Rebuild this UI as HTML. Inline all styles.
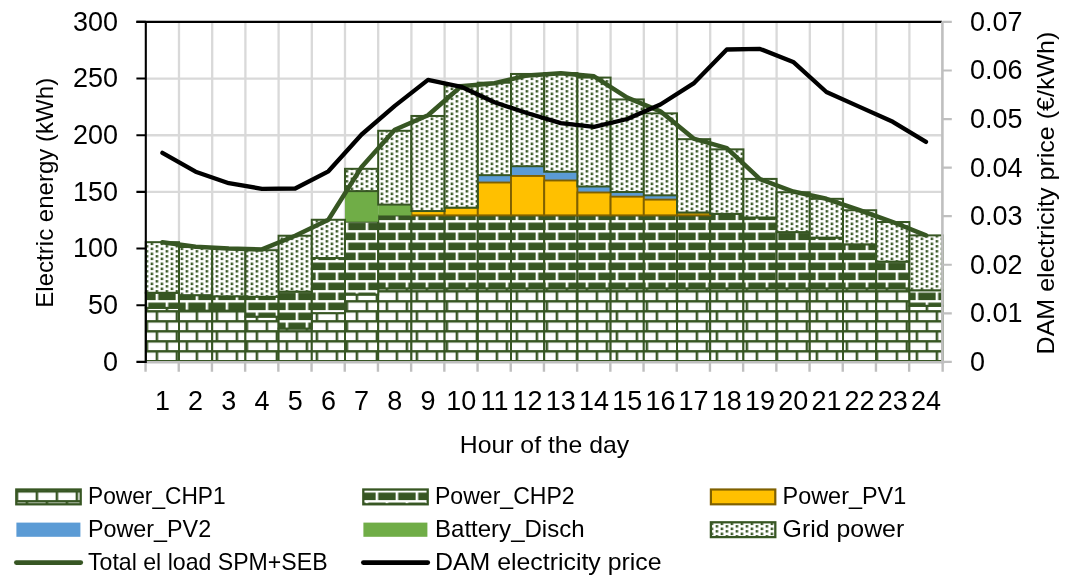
<!DOCTYPE html>
<html lang="en"><head><meta charset="utf-8"><title>Electric energy chart</title>
<style>html,body{margin:0;padding:0;background:#fff}svg{display:block}</style></head>
<body>
<svg width="1069" height="580" viewBox="0 0 1069 580" font-family="'Liberation Sans', sans-serif" fill="#000">
<defs>
<pattern id="b1" patternUnits="userSpaceOnUse" x="5.65" y="0.1" width="20" height="20"><rect width="20" height="20" fill="#fff"/><path d="M0 0h20v2.5H0zM0 10h20v2.5H0zM0 0h2.5v10H0zM10 10h2.5v10H10z" fill="#375623"/></pattern>
<pattern id="b2" patternUnits="userSpaceOnUse" x="5.65" y="0.1" width="20" height="20"><rect width="20" height="20" fill="#375623"/><path d="M0 0h20v2.5H0zM0 10h20v2.5H0zM0 0h2.5v10H0zM10 10h2.5v10H10z" fill="#fff"/></pattern>
<pattern id="dt" patternUnits="userSpaceOnUse" x="5.65" y="0.1" width="10" height="5"><rect width="10" height="5" fill="#fff"/><path d="M0 0h2.5v2.5H0zM5 2.5h2.5v2.5H5z" fill="#375623"/></pattern>
</defs>
<rect width="1069" height="580" fill="#fff"/>
<path d="M145.8 305.23H942.60M145.8 248.57H942.60M145.8 191.90H942.60M145.8 135.23H942.60M145.8 78.57H942.60M179.00 21.90V361.9M212.20 21.90V361.9M245.40 21.90V361.9M278.60 21.90V361.9M311.80 21.90V361.9M345.00 21.90V361.9M378.20 21.90V361.9M411.40 21.90V361.9M444.60 21.90V361.9M477.80 21.90V361.9M511.00 21.90V361.9M544.20 21.90V361.9M577.40 21.90V361.9M610.60 21.90V361.9M643.80 21.90V361.9M677.00 21.90V361.9M710.20 21.90V361.9M743.40 21.90V361.9M776.60 21.90V361.9M809.80 21.90V361.9M843.00 21.90V361.9M876.20 21.90V361.9M909.40 21.90V361.9" stroke="#D9D9D9" stroke-width="2.3" fill="none"/>
<rect x="145.80" y="307.83" width="33.2" height="53.17" fill="url(#b1)" stroke="#375623" stroke-width="2.0"/>
<rect x="179.00" y="310.66" width="33.2" height="50.34" fill="url(#b1)" stroke="#375623" stroke-width="2.0"/>
<rect x="212.20" y="310.66" width="33.2" height="50.34" fill="url(#b1)" stroke="#375623" stroke-width="2.0"/>
<rect x="245.40" y="316.66" width="33.2" height="44.34" fill="url(#b1)" stroke="#375623" stroke-width="2.0"/>
<rect x="278.60" y="328.55" width="33.2" height="32.45" fill="url(#b1)" stroke="#375623" stroke-width="2.0"/>
<rect x="311.80" y="313.15" width="33.2" height="47.85" fill="url(#b1)" stroke="#375623" stroke-width="2.0"/>
<rect x="345.00" y="294.59" width="33.2" height="66.41" fill="url(#b1)" stroke="#375623" stroke-width="2.0"/>
<rect x="378.20" y="288.36" width="33.2" height="72.64" fill="url(#b1)" stroke="#375623" stroke-width="2.0"/>
<rect x="411.40" y="288.36" width="33.2" height="72.64" fill="url(#b1)" stroke="#375623" stroke-width="2.0"/>
<rect x="444.60" y="288.36" width="33.2" height="72.64" fill="url(#b1)" stroke="#375623" stroke-width="2.0"/>
<rect x="477.80" y="288.36" width="33.2" height="72.64" fill="url(#b1)" stroke="#375623" stroke-width="2.0"/>
<rect x="511.00" y="288.36" width="33.2" height="72.64" fill="url(#b1)" stroke="#375623" stroke-width="2.0"/>
<rect x="544.20" y="288.36" width="33.2" height="72.64" fill="url(#b1)" stroke="#375623" stroke-width="2.0"/>
<rect x="577.40" y="288.36" width="33.2" height="72.64" fill="url(#b1)" stroke="#375623" stroke-width="2.0"/>
<rect x="610.60" y="288.36" width="33.2" height="72.64" fill="url(#b1)" stroke="#375623" stroke-width="2.0"/>
<rect x="643.80" y="288.36" width="33.2" height="72.64" fill="url(#b1)" stroke="#375623" stroke-width="2.0"/>
<rect x="677.00" y="288.36" width="33.2" height="72.64" fill="url(#b1)" stroke="#375623" stroke-width="2.0"/>
<rect x="710.20" y="288.36" width="33.2" height="72.64" fill="url(#b1)" stroke="#375623" stroke-width="2.0"/>
<rect x="743.40" y="288.36" width="33.2" height="72.64" fill="url(#b1)" stroke="#375623" stroke-width="2.0"/>
<rect x="776.60" y="288.36" width="33.2" height="72.64" fill="url(#b1)" stroke="#375623" stroke-width="2.0"/>
<rect x="809.80" y="288.36" width="33.2" height="72.64" fill="url(#b1)" stroke="#375623" stroke-width="2.0"/>
<rect x="843.00" y="288.36" width="33.2" height="72.64" fill="url(#b1)" stroke="#375623" stroke-width="2.0"/>
<rect x="876.20" y="288.36" width="33.2" height="72.64" fill="url(#b1)" stroke="#375623" stroke-width="2.0"/>
<rect x="909.40" y="305.79" width="33.2" height="55.21" fill="url(#b1)" stroke="#375623" stroke-width="2.0"/>
<rect x="145.80" y="292.77" width="33.2" height="15.06" fill="url(#b2)" stroke="#375623" stroke-width="2.0"/>
<rect x="179.00" y="295.15" width="33.2" height="15.51" fill="url(#b2)" stroke="#375623" stroke-width="2.0"/>
<rect x="212.20" y="296.28" width="33.2" height="14.38" fill="url(#b2)" stroke="#375623" stroke-width="2.0"/>
<rect x="245.40" y="296.74" width="33.2" height="19.92" fill="url(#b2)" stroke="#375623" stroke-width="2.0"/>
<rect x="278.60" y="291.64" width="33.2" height="36.90" fill="url(#b2)" stroke="#375623" stroke-width="2.0"/>
<rect x="311.80" y="258.02" width="33.2" height="55.13" fill="url(#b2)" stroke="#375623" stroke-width="2.0"/>
<rect x="345.00" y="221.68" width="33.2" height="72.90" fill="url(#b2)" stroke="#375623" stroke-width="2.0"/>
<rect x="378.20" y="215.46" width="33.2" height="72.90" fill="url(#b2)" stroke="#375623" stroke-width="2.0"/>
<rect x="411.40" y="215.35" width="33.2" height="73.01" fill="url(#b2)" stroke="#375623" stroke-width="2.0"/>
<rect x="444.60" y="215.35" width="33.2" height="73.01" fill="url(#b2)" stroke="#375623" stroke-width="2.0"/>
<rect x="477.80" y="215.35" width="33.2" height="73.01" fill="url(#b2)" stroke="#375623" stroke-width="2.0"/>
<rect x="511.00" y="215.35" width="33.2" height="73.01" fill="url(#b2)" stroke="#375623" stroke-width="2.0"/>
<rect x="544.20" y="215.35" width="33.2" height="73.01" fill="url(#b2)" stroke="#375623" stroke-width="2.0"/>
<rect x="577.40" y="215.35" width="33.2" height="73.01" fill="url(#b2)" stroke="#375623" stroke-width="2.0"/>
<rect x="610.60" y="215.35" width="33.2" height="73.01" fill="url(#b2)" stroke="#375623" stroke-width="2.0"/>
<rect x="643.80" y="215.35" width="33.2" height="73.01" fill="url(#b2)" stroke="#375623" stroke-width="2.0"/>
<rect x="677.00" y="215.35" width="33.2" height="73.01" fill="url(#b2)" stroke="#375623" stroke-width="2.0"/>
<rect x="710.20" y="213.87" width="33.2" height="74.49" fill="url(#b2)" stroke="#375623" stroke-width="2.0"/>
<rect x="743.40" y="217.50" width="33.2" height="70.86" fill="url(#b2)" stroke="#375623" stroke-width="2.0"/>
<rect x="776.60" y="232.10" width="33.2" height="56.26" fill="url(#b2)" stroke="#375623" stroke-width="2.0"/>
<rect x="809.80" y="237.65" width="33.2" height="50.71" fill="url(#b2)" stroke="#375623" stroke-width="2.0"/>
<rect x="843.00" y="244.32" width="33.2" height="44.03" fill="url(#b2)" stroke="#375623" stroke-width="2.0"/>
<rect x="876.20" y="261.64" width="33.2" height="26.72" fill="url(#b2)" stroke="#375623" stroke-width="2.0"/>
<rect x="909.40" y="290.28" width="33.2" height="15.51" fill="url(#b2)" stroke="#375623" stroke-width="2.0"/>
<rect x="477.80" y="175.16" width="33.2" height="7.36" fill="#5B9BD5" stroke="none" stroke-width="0"/>
<rect x="511.00" y="166.22" width="33.2" height="9.74" fill="#5B9BD5" stroke="none" stroke-width="0"/>
<rect x="544.20" y="171.76" width="33.2" height="8.72" fill="#5B9BD5" stroke="none" stroke-width="0"/>
<rect x="577.40" y="186.48" width="33.2" height="6.00" fill="#5B9BD5" stroke="none" stroke-width="0"/>
<rect x="610.60" y="192.03" width="33.2" height="4.64" fill="#5B9BD5" stroke="none" stroke-width="0"/>
<rect x="643.80" y="195.31" width="33.2" height="4.30" fill="#5B9BD5" stroke="none" stroke-width="0"/>
<rect x="411.40" y="211.04" width="33.2" height="4.30" fill="#FFC000" stroke="#7F6000" stroke-width="1.9"/>
<rect x="444.60" y="207.65" width="33.2" height="7.70" fill="#FFC000" stroke="#7F6000" stroke-width="1.9"/>
<rect x="477.80" y="182.52" width="33.2" height="32.83" fill="#FFC000" stroke="#7F6000" stroke-width="1.9"/>
<rect x="511.00" y="175.95" width="33.2" height="39.39" fill="#FFC000" stroke="#7F6000" stroke-width="1.9"/>
<rect x="544.20" y="180.48" width="33.2" height="34.87" fill="#FFC000" stroke="#7F6000" stroke-width="1.9"/>
<rect x="577.40" y="192.48" width="33.2" height="22.87" fill="#FFC000" stroke="#7F6000" stroke-width="1.9"/>
<rect x="610.60" y="196.67" width="33.2" height="18.68" fill="#FFC000" stroke="#7F6000" stroke-width="1.9"/>
<rect x="643.80" y="199.61" width="33.2" height="15.73" fill="#FFC000" stroke="#7F6000" stroke-width="1.9"/>
<rect x="677.00" y="212.52" width="33.2" height="2.83" fill="#FFC000" stroke="#7F6000" stroke-width="1.9"/>
<rect x="345.00" y="191.12" width="33.2" height="30.56" fill="#70AD47" stroke="none" stroke-width="0"/>
<rect x="378.20" y="204.59" width="33.2" height="10.87" fill="#70AD47" stroke="none" stroke-width="0"/>
<rect x="145.80" y="242.17" width="33.2" height="50.60" fill="url(#dt)" stroke="#375623" stroke-width="2.0"/>
<rect x="179.00" y="247.04" width="33.2" height="48.11" fill="url(#dt)" stroke="#375623" stroke-width="2.0"/>
<rect x="212.20" y="248.85" width="33.2" height="47.43" fill="url(#dt)" stroke="#375623" stroke-width="2.0"/>
<rect x="245.40" y="250.21" width="33.2" height="46.53" fill="url(#dt)" stroke="#375623" stroke-width="2.0"/>
<rect x="278.60" y="235.72" width="33.2" height="55.92" fill="url(#dt)" stroke="#375623" stroke-width="2.0"/>
<rect x="311.80" y="219.76" width="33.2" height="38.26" fill="url(#dt)" stroke="#375623" stroke-width="2.0"/>
<rect x="345.00" y="168.82" width="33.2" height="22.30" fill="url(#dt)" stroke="#375623" stroke-width="2.0"/>
<rect x="378.20" y="130.79" width="33.2" height="73.81" fill="url(#dt)" stroke="#375623" stroke-width="2.0"/>
<rect x="411.40" y="115.96" width="33.2" height="95.09" fill="url(#dt)" stroke="#375623" stroke-width="2.0"/>
<rect x="444.60" y="84.94" width="33.2" height="122.71" fill="url(#dt)" stroke="#375623" stroke-width="2.0"/>
<rect x="477.80" y="82.68" width="33.2" height="92.48" fill="url(#dt)" stroke="#375623" stroke-width="2.0"/>
<rect x="511.00" y="73.96" width="33.2" height="92.26" fill="url(#dt)" stroke="#375623" stroke-width="2.0"/>
<rect x="544.20" y="73.05" width="33.2" height="98.71" fill="url(#dt)" stroke="#375623" stroke-width="2.0"/>
<rect x="577.40" y="77.58" width="33.2" height="108.90" fill="url(#dt)" stroke="#375623" stroke-width="2.0"/>
<rect x="610.60" y="99.43" width="33.2" height="92.60" fill="url(#dt)" stroke="#375623" stroke-width="2.0"/>
<rect x="643.80" y="113.35" width="33.2" height="81.96" fill="url(#dt)" stroke="#375623" stroke-width="2.0"/>
<rect x="677.00" y="139.16" width="33.2" height="73.35" fill="url(#dt)" stroke="#375623" stroke-width="2.0"/>
<rect x="710.20" y="149.35" width="33.2" height="64.52" fill="url(#dt)" stroke="#375623" stroke-width="2.0"/>
<rect x="743.40" y="178.90" width="33.2" height="38.60" fill="url(#dt)" stroke="#375623" stroke-width="2.0"/>
<rect x="776.60" y="192.25" width="33.2" height="39.85" fill="url(#dt)" stroke="#375623" stroke-width="2.0"/>
<rect x="809.80" y="198.82" width="33.2" height="38.83" fill="url(#dt)" stroke="#375623" stroke-width="2.0"/>
<rect x="843.00" y="210.25" width="33.2" height="34.07" fill="url(#dt)" stroke="#375623" stroke-width="2.0"/>
<rect x="876.20" y="222.02" width="33.2" height="39.62" fill="url(#dt)" stroke="#375623" stroke-width="2.0"/>
<rect x="909.40" y="235.38" width="33.2" height="54.90" fill="url(#dt)" stroke="#375623" stroke-width="2.0"/>
<path d="M136.4 21.90H942.10" stroke="#000" stroke-width="2.1" fill="none"/>
<path d="M144.8 362.2H944.40" stroke="#BFBFBF" stroke-width="2.6" fill="none"/>
<path d="M145.55 362.2V371.8M178.75 362.2V371.8M211.95 362.2V371.8M245.15 362.2V371.8M278.35 362.2V371.8M311.55 362.2V371.8M344.75 362.2V371.8M377.95 362.2V371.8M411.15 362.2V371.8M444.35 362.2V371.8M477.55 362.2V371.8M510.75 362.2V371.8M543.95 362.2V371.8M577.15 362.2V371.8M610.35 362.2V371.8M643.55 362.2V371.8M676.75 362.2V371.8M709.95 362.2V371.8M743.15 362.2V371.8M776.35 362.2V371.8M809.55 362.2V371.8M842.75 362.2V371.8M875.95 362.2V371.8M909.15 362.2V371.8M942.65 362.2V371.8" stroke="#BFBFBF" stroke-width="2.4" fill="none"/>
<path d="M942.4 21.40V363.4" stroke="#BFBFBF" stroke-width="2.6" fill="none"/>
<path d="M942.4 361.90H951.8M942.4 313.33H951.8M942.4 264.76H951.8M942.4 216.19H951.8M942.4 167.62H951.8M942.4 119.05H951.8M942.4 70.48H951.8M942.4 21.91H951.8" stroke="#BFBFBF" stroke-width="2.2" fill="none"/>
<path d="M145.8 21.00V362.9M136.4 361.90H145.8M136.4 305.23H145.8M136.4 248.57H145.8M136.4 191.90H145.8M136.4 135.23H145.8M136.4 78.57H145.8M136.4 21.90H145.8" stroke="#000" stroke-width="2.1" fill="none"/>
<polyline points="162.40,242.17 195.60,246.82 228.80,248.51 262.00,249.42 295.20,235.72 328.40,219.76 361.60,167.01 394.80,129.77 428.00,115.28 461.20,86.30 494.40,83.24 527.60,75.43 560.80,73.28 594.00,76.34 627.20,97.62 660.40,111.31 693.60,138.60 726.80,148.10 760.00,179.23 793.20,191.57 826.40,198.82 859.60,210.25 892.80,222.02 926.00,235.38" fill="none" stroke="#375623" stroke-width="4.5" stroke-linejoin="round" stroke-linecap="round"/>
<polyline points="162.40,152.80 195.60,171.70 228.80,183.20 262.00,188.80 295.20,188.50 328.40,171.30 361.60,134.50 394.80,105.90 428.00,79.90 461.20,86.80 494.40,102.30 527.60,113.20 560.80,123.10 594.00,126.80 627.20,119.00 660.40,104.50 693.60,83.40 726.80,49.50 760.00,48.90 793.20,61.90 826.40,92.00 859.60,106.90 892.80,121.80 926.00,141.90" fill="none" stroke="#000" stroke-width="4.3" stroke-linejoin="round" stroke-linecap="round"/>
<text transform="translate(117.90 370.80) scale(0.96 1)" font-size="28.1" text-anchor="end">0</text>
<text transform="translate(117.90 314.13) scale(0.96 1)" font-size="28.1" text-anchor="end">50</text>
<text transform="translate(117.90 257.47) scale(0.96 1)" font-size="28.1" text-anchor="end">100</text>
<text transform="translate(117.90 200.80) scale(0.96 1)" font-size="28.1" text-anchor="end">150</text>
<text transform="translate(117.90 144.13) scale(0.96 1)" font-size="28.1" text-anchor="end">200</text>
<text transform="translate(117.90 87.47) scale(0.96 1)" font-size="28.1" text-anchor="end">250</text>
<text transform="translate(117.90 30.80) scale(0.96 1)" font-size="28.1" text-anchor="end">300</text>
<text transform="translate(970.00 370.80) scale(0.96 1)" font-size="28.1" text-anchor="start">0</text>
<text transform="translate(970.00 322.23) scale(0.96 1)" font-size="28.1" text-anchor="start">0.01</text>
<text transform="translate(970.00 273.66) scale(0.96 1)" font-size="28.1" text-anchor="start">0.02</text>
<text transform="translate(970.00 225.09) scale(0.96 1)" font-size="28.1" text-anchor="start">0.03</text>
<text transform="translate(970.00 176.52) scale(0.96 1)" font-size="28.1" text-anchor="start">0.04</text>
<text transform="translate(970.00 127.95) scale(0.96 1)" font-size="28.1" text-anchor="start">0.05</text>
<text transform="translate(970.00 79.38) scale(0.96 1)" font-size="28.1" text-anchor="start">0.06</text>
<text transform="translate(970.00 30.81) scale(0.96 1)" font-size="28.1" text-anchor="start">0.07</text>
<text transform="translate(162.40 410.40) scale(0.96 1)" font-size="28.1" text-anchor="middle">1</text>
<text transform="translate(195.60 410.40) scale(0.96 1)" font-size="28.1" text-anchor="middle">2</text>
<text transform="translate(228.80 410.40) scale(0.96 1)" font-size="28.1" text-anchor="middle">3</text>
<text transform="translate(262.00 410.40) scale(0.96 1)" font-size="28.1" text-anchor="middle">4</text>
<text transform="translate(295.20 410.40) scale(0.96 1)" font-size="28.1" text-anchor="middle">5</text>
<text transform="translate(328.40 410.40) scale(0.96 1)" font-size="28.1" text-anchor="middle">6</text>
<text transform="translate(361.60 410.40) scale(0.96 1)" font-size="28.1" text-anchor="middle">7</text>
<text transform="translate(394.80 410.40) scale(0.96 1)" font-size="28.1" text-anchor="middle">8</text>
<text transform="translate(428.00 410.40) scale(0.96 1)" font-size="28.1" text-anchor="middle">9</text>
<text transform="translate(461.20 410.40) scale(0.96 1)" font-size="28.1" text-anchor="middle">10</text>
<text transform="translate(494.40 410.40) scale(0.96 1)" font-size="28.1" text-anchor="middle">11</text>
<text transform="translate(527.60 410.40) scale(0.96 1)" font-size="28.1" text-anchor="middle">12</text>
<text transform="translate(560.80 410.40) scale(0.96 1)" font-size="28.1" text-anchor="middle">13</text>
<text transform="translate(594.00 410.40) scale(0.96 1)" font-size="28.1" text-anchor="middle">14</text>
<text transform="translate(627.20 410.40) scale(0.96 1)" font-size="28.1" text-anchor="middle">15</text>
<text transform="translate(660.40 410.40) scale(0.96 1)" font-size="28.1" text-anchor="middle">16</text>
<text transform="translate(693.60 410.40) scale(0.96 1)" font-size="28.1" text-anchor="middle">17</text>
<text transform="translate(726.80 410.40) scale(0.96 1)" font-size="28.1" text-anchor="middle">18</text>
<text transform="translate(760.00 410.40) scale(0.96 1)" font-size="28.1" text-anchor="middle">19</text>
<text transform="translate(793.20 410.40) scale(0.96 1)" font-size="28.1" text-anchor="middle">20</text>
<text transform="translate(826.40 410.40) scale(0.96 1)" font-size="28.1" text-anchor="middle">21</text>
<text transform="translate(859.60 410.40) scale(0.96 1)" font-size="28.1" text-anchor="middle">22</text>
<text transform="translate(892.80 410.40) scale(0.96 1)" font-size="28.1" text-anchor="middle">23</text>
<text transform="translate(926.00 410.40) scale(0.96 1)" font-size="28.1" text-anchor="middle">24</text>
<text x="544.5" y="453" font-size="23.4" text-anchor="middle" textLength="169.5" lengthAdjust="spacingAndGlyphs">Hour of the day</text>
<text transform="translate(53.1 192.75) rotate(-90)" font-size="23.4" text-anchor="middle" textLength="229.9" lengthAdjust="spacingAndGlyphs">Electric energy (kWh)</text>
<text transform="translate(1054.2 193.05) rotate(-90)" font-size="23.4" text-anchor="middle" textLength="322.8" lengthAdjust="spacingAndGlyphs">DAM electricity price (€/kWh)</text>
<rect x="16.3" y="489.5" width="64.4" height="14.8" fill="url(#b1)" stroke="#375623" stroke-width="2.3"/>
<rect x="363.3" y="489.5" width="64.4" height="14.8" fill="url(#b2)" stroke="#375623" stroke-width="2.3"/>
<rect x="710.9" y="489.5" width="64.4" height="14.8" fill="#FFC000" stroke="#7F6000" stroke-width="2.2"/>
<rect x="16.400000000000002" y="522.6" width="64" height="14.2" fill="#5B9BD5"/>
<rect x="363.40000000000003" y="522.6" width="64" height="14.2" fill="#70AD47"/>
<rect x="710.9" y="522.3000000000001" width="64.4" height="14.8" fill="url(#dt)" stroke="#375623" stroke-width="2.3"/>
<path d="M16.3 562.6h64.5" stroke="#375623" stroke-width="4.6" stroke-linecap="round"/>
<path d="M363.3 562.6h64.5" stroke="#000" stroke-width="4.6" stroke-linecap="round"/>
<text x="88.0" y="504.3" font-size="23.6" textLength="137.6" lengthAdjust="spacingAndGlyphs">Power_CHP1</text>
<text x="435.0" y="504.3" font-size="23.6" textLength="139.6" lengthAdjust="spacingAndGlyphs">Power_CHP2</text>
<text x="782.6" y="504.3" font-size="23.6" textLength="123.6" lengthAdjust="spacingAndGlyphs">Power_PV1</text>
<text x="88.0" y="537.1" font-size="23.6" textLength="123.1" lengthAdjust="spacingAndGlyphs">Power_PV2</text>
<text x="435.0" y="537.1" font-size="23.6" textLength="149.6" lengthAdjust="spacingAndGlyphs">Battery_Disch</text>
<text x="782.6" y="537.1" font-size="23.6" textLength="121.6" lengthAdjust="spacingAndGlyphs">Grid power</text>
<text x="88.0" y="570.0" font-size="23.6" textLength="239.6" lengthAdjust="spacingAndGlyphs">Total el load SPM+SEB</text>
<text x="435.0" y="570.0" font-size="23.6" textLength="226.6" lengthAdjust="spacingAndGlyphs">DAM electricity price</text>
</svg>
</body></html>
